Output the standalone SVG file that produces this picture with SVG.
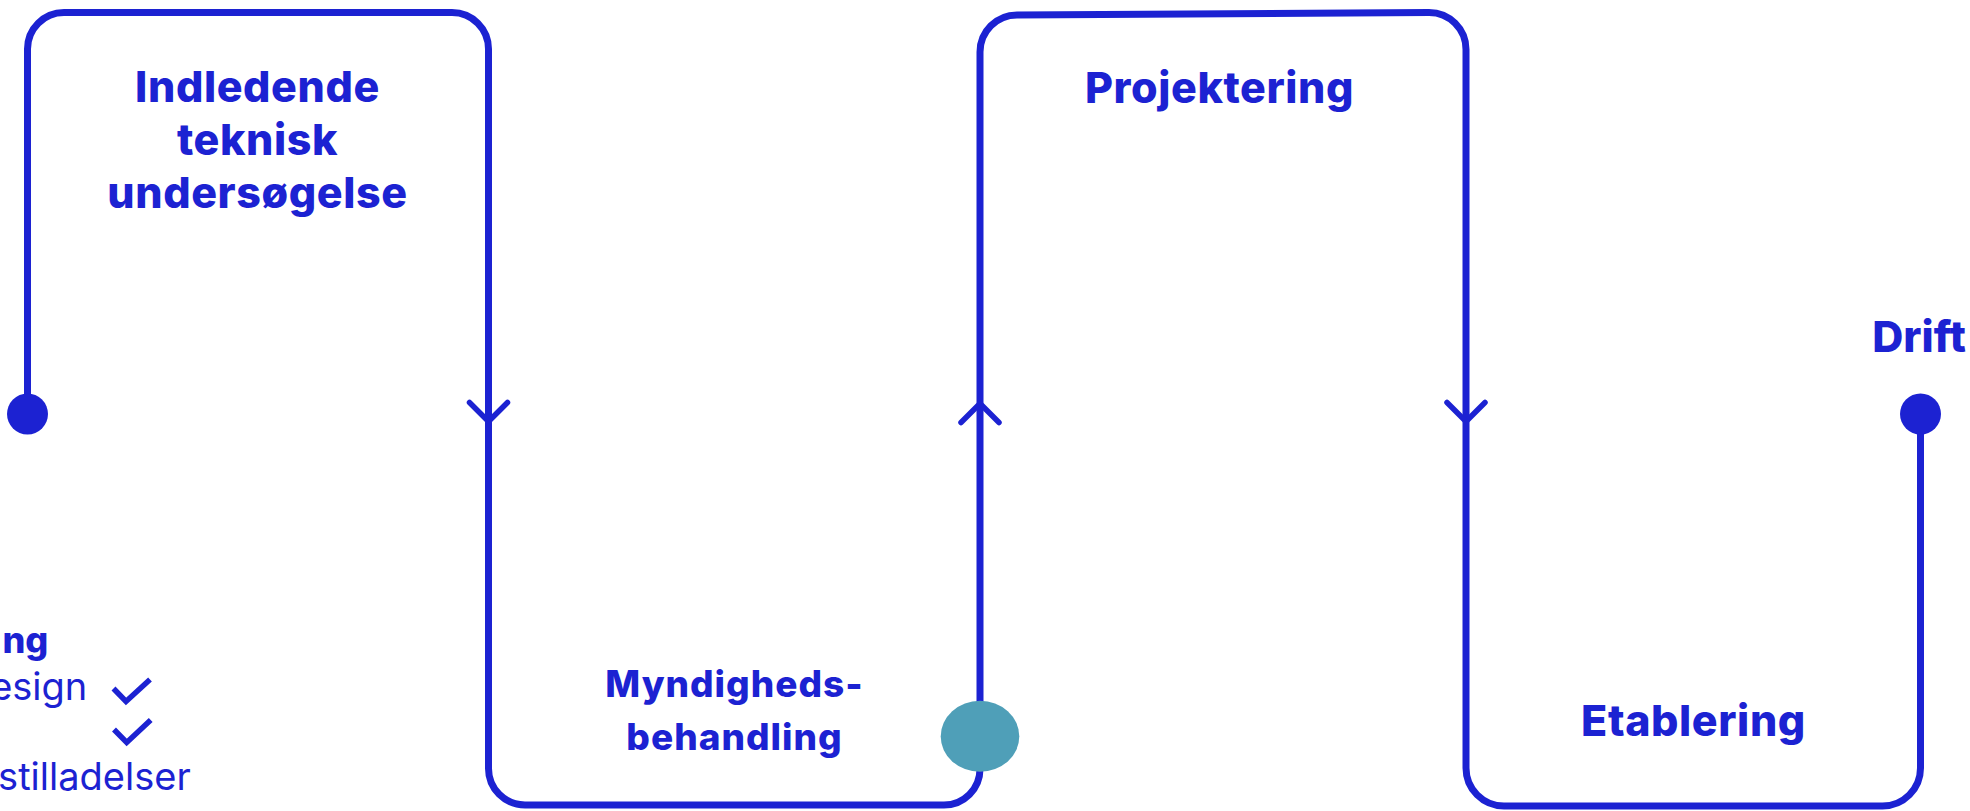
<svg xmlns="http://www.w3.org/2000/svg" width="1970" height="811" viewBox="0 0 1970 811">
  <style>
    .line { fill: none; stroke: #1c22d2; stroke-width: 7; stroke-linejoin: round; }
    .chev { fill: none; stroke: #1c22d2; stroke-width: 5.5; stroke-linecap: round; stroke-linejoin: round; }
    .title { font-family: Inter, "Open Sans", "Liberation Sans", sans-serif; font-weight: 800; fill: #1c22d2; text-anchor: middle; }
    .big { font-size: 43px; letter-spacing: 0.6px; }
    .mid { font-size: 37px; letter-spacing: 1px; }
    .list { font-family: Inter, "Open Sans", "Liberation Sans", sans-serif; font-weight: 400; font-size: 38px; fill: #1c22d2; text-anchor: end; }
    .listhead { font-family: Inter, "Open Sans", "Liberation Sans", sans-serif; font-weight: 800; font-size: 36px; fill: #1c22d2; text-anchor: end; }
    .dot { fill: #1c22d2; }
    .teal { fill: #4f9fb8; }
    .check { fill: none; stroke: #1c22d2; stroke-width: 5.5; stroke-linecap: butt; stroke-linejoin: miter; }
  </style>
  <defs>
    <marker id="chevron" viewBox="-25 -25 30 50" refX="0" refY="0" markerWidth="30" markerHeight="50" markerUnits="userSpaceOnUse" orient="auto" overflow="visible">
      <path class="chev" d="M-19,-19 L0,0 L-19,19"/>
    </marker>
  </defs>
  <rect width="1970" height="811" fill="#ffffff"/>

  <g id="connectors">
    <path class="line" marker-end="url(#chevron)" d="M27.5,414 V49 A36.5,36.5 0 0 1 64,12.5 H452 A36.5,36.5 0 0 1 488.5,49 V421.5"/>
    <path class="line" marker-end="url(#chevron)" d="M488.5,421.5 V768.5 A36.5,36.5 0 0 0 525,805 H944 A36,36 0 0 0 980,769 V403.5"/>
    <path class="line" marker-end="url(#chevron)" d="M980,403.5 V52 A37,37 0 0 1 1017,15 L1429,12.5 A37,37 0 0 1 1466,49.5 V421.5"/>
    <path class="line" d="M1466,421.5 V768 A38,38 0 0 0 1504,806 H1882.5 A38,38 0 0 0 1920.5,768 V414"/>
  </g>

  <g id="start">
    <circle class="dot" cx="27.5" cy="414" r="20.5"/>
  </g>

  <g id="indledende">
    <text class="title big" x="257.5" y="101.7">Indledende</text>
    <text class="title big" x="257.5" y="155">teknisk</text>
    <text class="title big" x="257.5" y="207.5">undersøgelse</text>
  </g>

  <g id="myndighedsbehandling">
    <text class="title mid" x="734.5" y="697">Myndigheds-</text>
    <text class="title mid" x="734.5" y="750">behandling</text>
    <ellipse class="teal" cx="980" cy="736.3" rx="39.3" ry="35.5"/>
  </g>

  <g id="projektering">
    <text class="title big" x="1219.5" y="102.5">Projektering</text>
  </g>

  <g id="etablering">
    <text class="title big" x="1693.5" y="736">Etablering</text>
  </g>

  <g id="drift">
    <text class="title" x="1966" y="352" style="text-anchor:end; font-size:43px; letter-spacing:0">Drift</text>
    <circle class="dot" cx="1920.5" cy="414" r="20.5"/>
  </g>

  <g id="checklist">
    <text class="listhead" x="48.3" y="653">ng</text>
    <text class="list" x="87.3" y="699.5">esign</text>
    <path class="check" d="M113.5,688.5 L126,701.5 L150,679.5"/>
    <path class="check" d="M114,729.5 L126.7,742.5 L150.7,720"/>
    <text class="list" x="190.7" y="790">stilladelser</text>
  </g>
</svg>
